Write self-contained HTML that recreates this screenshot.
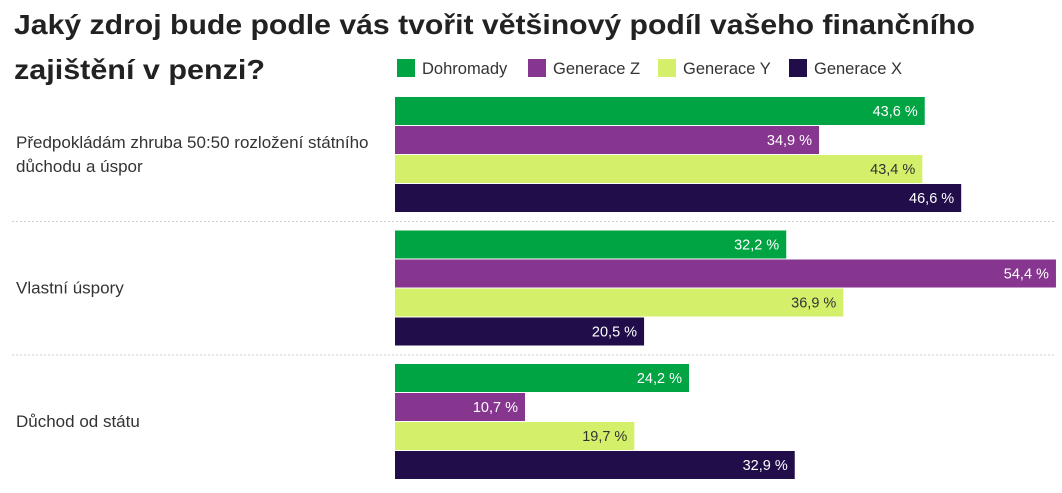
<!DOCTYPE html>
<html><head><meta charset="utf-8"><style>
body{margin:0;background:#fff;font-family:"Liberation Sans",sans-serif;}
#c{position:relative;width:1062px;height:493px;overflow:hidden}
</style></head><body>
<div id="c">
<svg width="1062" height="493">
<text x="14" y="34" font-size="28" font-weight="bold" fill="#222" textLength="961" lengthAdjust="spacingAndGlyphs">Jaký zdroj bude podle vás tvořit většinový podíl vašeho finančního</text>
<text x="14" y="79" font-size="28" font-weight="bold" fill="#222" textLength="251" lengthAdjust="spacingAndGlyphs">zajištění v penzi?</text>
<g id="legend"></g>
<g id="plot"></g>
</svg></div>
<script>
const categories=["Předpokládám zhruba 50:50 rozložení státního|důchodu a úspor","Vlastní úspory","Důchod od státu"];
const seriesNames=["Dohromady","Generace Z","Generace Y","Generace X"];
const dohromady=[43.6,32.2,24.2];
const generaceZ=[34.9,54.4,10.7];
const generaceY=[43.4,36.9,19.7];
const generaceX=[46.6,20.5,32.9];
const colors=["#00a443","#87368f","#d4f06b","#200d4a"];
const textColors=["#fff","#fff","#333","#fff"];
const series=[dohromady,generaceZ,generaceY,generaceX];
const NS="http://www.w3.org/2000/svg";
const x=v=>v*12.15;
const x0=395,groupTop=97,groupStep=133.5,barStep=29,barH=28;
function mk(t,a,p){const e=document.createElementNS(NS,t);for(const k in a)e.setAttribute(k,a[k]);p.appendChild(e);return e;}
const lg=document.getElementById('legend');
const lx=[397,528,658,789];
seriesNames.forEach((n,i)=>{
 const r=mk('rect',{x:lx[i],y:59,width:18,height:18,fill:colors[i]},lg);
 
 
 const t=mk('text',{x:lx[i]+25,y:74,'font-size':16.5,fill:'#333'},lg);t.textContent=n;
 
 
});
const pl=document.getElementById('plot');
categories.forEach((c,g)=>{
 const top=groupTop+g*groupStep;
 const lines=c.split('|');
 const cy=top+58-(lines.length-1)*12;
 lines.forEach((l,k)=>{
  const t=mk('text',{x:16,y:cy+5+k*24,'font-size':17,fill:'#333'},pl);t.textContent=l;
  
  
 });
 if(g>0){const ln=mk('line',{x1:12,x2:1056,y1:top-9,y2:top-9,stroke:'#ccc','stroke-dasharray':'2,2'},pl);
  
  }
 series.forEach((s,i)=>{
  const y=top+i*barStep,w=x(s[g]);
  const r=mk('rect',{x:x0,y:y,width:w,height:barH,fill:colors[i]},pl);
  
  
  const t=mk('text',{x:x0+w-7,y:y+19,'font-size':14.5,fill:textColors[i],'text-anchor':'end'},pl);
  t.textContent=s[g].toFixed(1).replace('.',',')+' %';
  
  
 });
});
</script>
</body></html>
